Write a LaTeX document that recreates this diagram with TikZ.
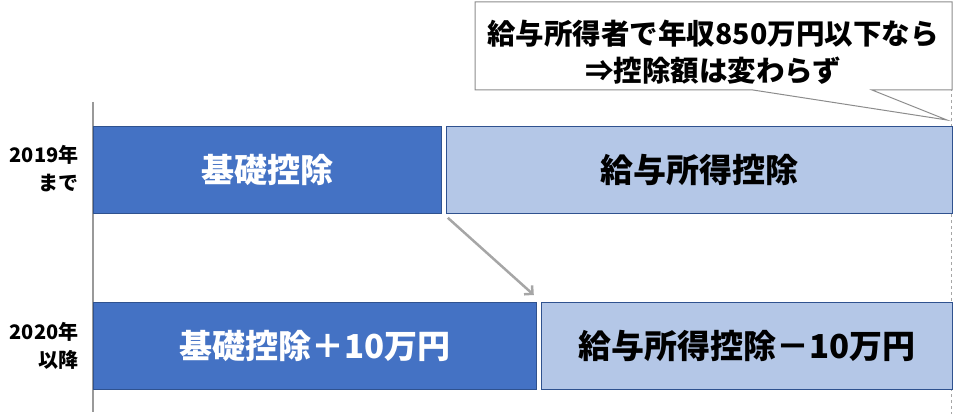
\documentclass[tikz,border=0pt]{standalone}
\usepackage{fontspec}
\setmainfont{Noto Sans CJK JP}
\usetikzlibrary{positioning,arrows.meta}
\definecolor{kisoblue}{HTML}{4472C4}
\definecolor{kyublue}{HTML}{B4C7E7}
\definecolor{edgeblue}{HTML}{2F528F}
\newcommand{\boxfont}{\fontsize{33}{40}\selectfont\bfseries}

\begin{document}
\begin{tikzpicture}[x=1pt, y=-1pt,
    bar/.style={draw=edgeblue, line width=0.8pt, minimum height=87pt,
        inner sep=0pt, font=\boxfont},
    kisobar/.style={bar, fill=kisoblue, text=white},
    kyubar/.style={bar, fill=kyublue, text=black},
    yearlabel/.style={align=right, anchor=east,
        font=\fontsize{20}{28}\selectfont\bfseries}]
    \useasboundingbox (0,0) rectangle (960,414);

    % guide lines
    \draw[gray!80, line width=1.2pt] (93,102) -- (93,412);
    \draw[gray!70, dashed, line width=0.8pt] (951,88) -- (951,414);

    % until 2019
    \node[kisobar, minimum width=348pt, anchor=north west] (kiso19) at (93,126) {基礎控除};
    \node[kyubar, minimum width=506pt, right=4pt of kiso19] (kyu19) {給与所得控除};
    \node[yearlabel] (year19) at (82,169) {2019年\\まで};

    % from 2020
    \node[kisobar, minimum width=443pt, anchor=north west] (kiso20) at (93,302) {基礎控除＋10万円};
    \node[kyubar, minimum width=411pt, right=4pt of kiso20] (kyu20) {給与所得控除－10万円};
    \node[yearlabel] (year20) at (82,346) {2020年\\以降};

    % shift of 10 man-yen
    \draw[-{Straight Barb[length=6pt]}, gray!70, line width=2.5pt]
        ([xshift=2pt, yshift=-4pt]kyu19.south west) -- ([xshift=-7pt, yshift=7pt]kyu20.north west);

    % callout
    \draw[gray!90, fill=white, line width=1pt]
        (475,2) -- (952,2) -- (952,90) -- (872,90) -- (947,120) -- (753,90) -- (475,90) -- cycle;
    \node[align=center, font=\fontsize{28.5}{37}\selectfont\bfseries] (note) at (713,52)
        {給与所得者で年収850万円以下なら\\⇒控除額は変わらず};
\end{tikzpicture}
\end{document}
